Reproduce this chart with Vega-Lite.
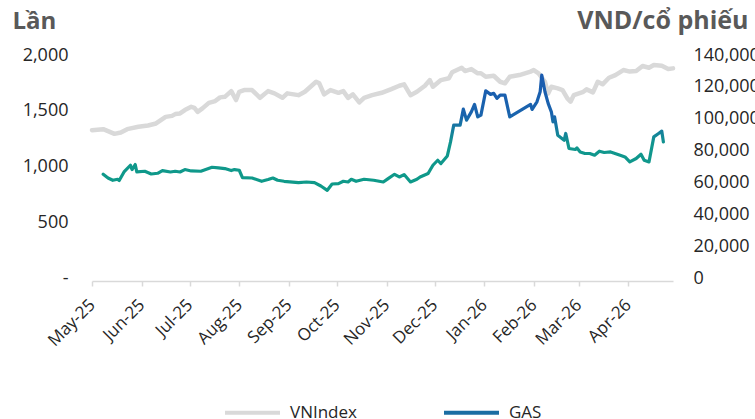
{
  "$schema": "https://vega.github.io/schema/vega-lite/v6.json",
  "width": 581,
  "height": 223,
  "autosize": {"type": "none"},
  "padding": {"left": 92, "top": 55, "right": 82, "bottom": 141},
  "background": "white",
  "config": {
    "view": {"stroke": null},
    "font": "Open Sans"
  },
  "datasets": {
    "vnindex": [
      {"date": "2025-05-01", "value": 1326},
      {"date": "2025-05-08", "value": 1335},
      {"date": "2025-05-11", "value": 1317},
      {"date": "2025-05-15", "value": 1293},
      {"date": "2025-05-19", "value": 1305},
      {"date": "2025-05-23", "value": 1335},
      {"date": "2025-05-30", "value": 1356},
      {"date": "2025-06-05", "value": 1368},
      {"date": "2025-06-10", "value": 1386},
      {"date": "2025-06-13", "value": 1416},
      {"date": "2025-06-16", "value": 1445},
      {"date": "2025-06-20", "value": 1454},
      {"date": "2025-06-22", "value": 1470},
      {"date": "2025-06-25", "value": 1476},
      {"date": "2025-06-28", "value": 1506},
      {"date": "2025-07-02", "value": 1535},
      {"date": "2025-07-04", "value": 1526},
      {"date": "2025-07-06", "value": 1490},
      {"date": "2025-07-09", "value": 1521},
      {"date": "2025-07-13", "value": 1571},
      {"date": "2025-07-17", "value": 1587},
      {"date": "2025-07-20", "value": 1620},
      {"date": "2025-07-23", "value": 1625},
      {"date": "2025-07-27", "value": 1676},
      {"date": "2025-07-30", "value": 1596},
      {"date": "2025-08-01", "value": 1670},
      {"date": "2025-08-04", "value": 1685},
      {"date": "2025-08-09", "value": 1685},
      {"date": "2025-08-14", "value": 1616},
      {"date": "2025-08-19", "value": 1676},
      {"date": "2025-08-23", "value": 1656},
      {"date": "2025-08-28", "value": 1616},
      {"date": "2025-08-31", "value": 1656},
      {"date": "2025-09-07", "value": 1640},
      {"date": "2025-09-11", "value": 1670},
      {"date": "2025-09-18", "value": 1760},
      {"date": "2025-09-20", "value": 1746},
      {"date": "2025-09-23", "value": 1647},
      {"date": "2025-09-27", "value": 1685},
      {"date": "2025-10-02", "value": 1661},
      {"date": "2025-10-05", "value": 1676},
      {"date": "2025-10-08", "value": 1616},
      {"date": "2025-10-11", "value": 1647},
      {"date": "2025-10-15", "value": 1575},
      {"date": "2025-10-18", "value": 1616},
      {"date": "2025-10-23", "value": 1640},
      {"date": "2025-10-29", "value": 1661},
      {"date": "2025-11-04", "value": 1694},
      {"date": "2025-11-09", "value": 1724},
      {"date": "2025-11-12", "value": 1737},
      {"date": "2025-11-16", "value": 1640},
      {"date": "2025-11-20", "value": 1670},
      {"date": "2025-11-25", "value": 1724},
      {"date": "2025-11-28", "value": 1775},
      {"date": "2025-11-30", "value": 1715},
      {"date": "2025-12-05", "value": 1775},
      {"date": "2025-12-10", "value": 1791},
      {"date": "2025-12-12", "value": 1845},
      {"date": "2025-12-18", "value": 1886},
      {"date": "2025-12-20", "value": 1856},
      {"date": "2025-12-24", "value": 1874},
      {"date": "2025-12-28", "value": 1836},
      {"date": "2025-12-30", "value": 1836},
      {"date": "2026-01-02", "value": 1805},
      {"date": "2026-01-07", "value": 1814},
      {"date": "2026-01-11", "value": 1760},
      {"date": "2026-01-14", "value": 1746},
      {"date": "2026-01-17", "value": 1805},
      {"date": "2026-01-23", "value": 1820},
      {"date": "2026-01-30", "value": 1851},
      {"date": "2026-02-01", "value": 1865},
      {"date": "2026-02-04", "value": 1836},
      {"date": "2026-02-08", "value": 1760},
      {"date": "2026-02-10", "value": 1655},
      {"date": "2026-02-12", "value": 1715},
      {"date": "2026-02-16", "value": 1701},
      {"date": "2026-02-19", "value": 1685},
      {"date": "2026-02-22", "value": 1611},
      {"date": "2026-02-24", "value": 1581},
      {"date": "2026-02-26", "value": 1640},
      {"date": "2026-03-04", "value": 1670},
      {"date": "2026-03-06", "value": 1692},
      {"date": "2026-03-10", "value": 1665},
      {"date": "2026-03-13", "value": 1760},
      {"date": "2026-03-16", "value": 1737},
      {"date": "2026-03-20", "value": 1796},
      {"date": "2026-03-24", "value": 1820},
      {"date": "2026-03-29", "value": 1865},
      {"date": "2026-04-02", "value": 1851},
      {"date": "2026-04-06", "value": 1856},
      {"date": "2026-04-10", "value": 1901},
      {"date": "2026-04-14", "value": 1886},
      {"date": "2026-04-17", "value": 1910},
      {"date": "2026-04-22", "value": 1904},
      {"date": "2026-04-26", "value": 1874},
      {"date": "2026-04-29", "value": 1880}
    ],
    "gas": [
      {"date": "2025-05-08", "value": 65100},
      {"date": "2025-05-11", "value": 62800},
      {"date": "2025-05-14", "value": 61350},
      {"date": "2025-05-17", "value": 61980},
      {"date": "2025-05-18", "value": 61160},
      {"date": "2025-05-21", "value": 66570},
      {"date": "2025-05-25", "value": 70790},
      {"date": "2025-05-26", "value": 68080},
      {"date": "2025-05-28", "value": 71230},
      {"date": "2025-05-29", "value": 66570},
      {"date": "2025-06-03", "value": 67010},
      {"date": "2025-06-07", "value": 65310},
      {"date": "2025-06-11", "value": 65750},
      {"date": "2025-06-14", "value": 67450},
      {"date": "2025-06-19", "value": 66570},
      {"date": "2025-06-22", "value": 67010},
      {"date": "2025-06-25", "value": 66570},
      {"date": "2025-06-28", "value": 68080},
      {"date": "2025-07-02", "value": 67200},
      {"date": "2025-07-08", "value": 67010},
      {"date": "2025-07-15", "value": 69530},
      {"date": "2025-07-19", "value": 69090},
      {"date": "2025-07-23", "value": 68710},
      {"date": "2025-07-27", "value": 67450},
      {"date": "2025-07-29", "value": 68080},
      {"date": "2025-08-01", "value": 67640},
      {"date": "2025-08-03", "value": 63050},
      {"date": "2025-08-09", "value": 62790},
      {"date": "2025-08-15", "value": 60720},
      {"date": "2025-08-19", "value": 61790},
      {"date": "2025-08-22", "value": 62790},
      {"date": "2025-08-25", "value": 61350},
      {"date": "2025-08-29", "value": 60720},
      {"date": "2025-09-07", "value": 59900},
      {"date": "2025-09-12", "value": 60280},
      {"date": "2025-09-17", "value": 59900},
      {"date": "2025-09-21", "value": 57760},
      {"date": "2025-09-25", "value": 55060},
      {"date": "2025-09-28", "value": 59020},
      {"date": "2025-10-02", "value": 59270},
      {"date": "2025-10-05", "value": 60720},
      {"date": "2025-10-08", "value": 60280},
      {"date": "2025-10-10", "value": 61980},
      {"date": "2025-10-13", "value": 60720},
      {"date": "2025-10-18", "value": 61980},
      {"date": "2025-10-24", "value": 61350},
      {"date": "2025-10-30", "value": 60280},
      {"date": "2025-11-02", "value": 62420},
      {"date": "2025-11-06", "value": 65120},
      {"date": "2025-11-09", "value": 63420},
      {"date": "2025-11-12", "value": 64930},
      {"date": "2025-11-16", "value": 60280},
      {"date": "2025-11-20", "value": 61980},
      {"date": "2025-11-22", "value": 63420},
      {"date": "2025-11-27", "value": 65560},
      {"date": "2025-11-30", "value": 70790},
      {"date": "2025-12-03", "value": 73930},
      {"date": "2025-12-05", "value": 71860},
      {"date": "2025-12-09", "value": 76640},
      {"date": "2025-12-11", "value": 85450},
      {"date": "2025-12-13", "value": 95950},
      {"date": "2025-12-17", "value": 95950},
      {"date": "2025-12-19", "value": 106020},
      {"date": "2025-12-21", "value": 99100},
      {"date": "2025-12-24", "value": 104320},
      {"date": "2025-12-26", "value": 108980},
      {"date": "2025-12-28", "value": 101180},
      {"date": "2025-12-30", "value": 102250},
      {"date": "2026-01-02", "value": 117500},
      {"date": "2026-01-05", "value": 115270},
      {"date": "2026-01-07", "value": 115900},
      {"date": "2026-01-09", "value": 112750},
      {"date": "2026-01-11", "value": 114830},
      {"date": "2026-01-14", "value": 114830},
      {"date": "2026-01-17", "value": 101180},
      {"date": "2026-01-30", "value": 108980},
      {"date": "2026-01-31", "value": 105830},
      {"date": "2026-02-03", "value": 110610},
      {"date": "2026-02-05", "value": 116900},
      {"date": "2026-02-06", "value": 127410},
      {"date": "2026-02-08", "value": 116900},
      {"date": "2026-02-10", "value": 109610},
      {"date": "2026-02-12", "value": 104320},
      {"date": "2026-02-13", "value": 98030},
      {"date": "2026-02-14", "value": 101180},
      {"date": "2026-02-16", "value": 89660},
      {"date": "2026-02-20", "value": 86520},
      {"date": "2026-02-21", "value": 90730},
      {"date": "2026-02-23", "value": 81290},
      {"date": "2026-02-27", "value": 80660},
      {"date": "2026-02-28", "value": 81670},
      {"date": "2026-03-02", "value": 79150},
      {"date": "2026-03-05", "value": 78150},
      {"date": "2026-03-08", "value": 78150},
      {"date": "2026-03-11", "value": 77080},
      {"date": "2026-03-14", "value": 79590},
      {"date": "2026-03-17", "value": 78780},
      {"date": "2026-03-21", "value": 79150},
      {"date": "2026-03-27", "value": 77080},
      {"date": "2026-03-30", "value": 76010},
      {"date": "2026-04-02", "value": 72860},
      {"date": "2026-04-06", "value": 75000},
      {"date": "2026-04-09", "value": 77710},
      {"date": "2026-04-11", "value": 73930},
      {"date": "2026-04-14", "value": 72860},
      {"date": "2026-04-17", "value": 88590},
      {"date": "2026-04-20", "value": 90730},
      {"date": "2026-04-22", "value": 92180},
      {"date": "2026-04-23", "value": 85450}
    ]
  },
  "layer": [
    {
      "data": {"name": "vnindex"},
      "mark": {"type": "line", "strokeWidth": 4.5, "strokeJoin": "round", "strokeCap": "round"},
      "encoding": {
        "x": {
          "field": "date", "type": "temporal",
          "scale": {"domain": [{"year": 2025, "month": 5, "date": 1}, {"year": 2026, "month": 4, "date": 29}], "nice": false},
          "axis": {
            "title": null, "format": "%b-%y", "tickCount": {"interval": "month", "step": 1},
            "labelAngle": -45, "labelAlign": "right", "labelBaseline": "middle",
            "labelFont": "Open Sans", "labelFontSize": 17, "labelColor": "#262626",
            "labelPadding": 16, "labelOverlap": false, "labelFlush": false,
            "domainColor": "#d9d9d9", "domainWidth": 1.5, "tickColor": "#d9d9d9", "tickSize": 5, "tickWidth": 1.5,
            "grid": false, "offset": 3
          }
        },
        "y": {
          "field": "value", "type": "quantitative",
          "scale": {"domain": [0, 2000], "nice": false, "zero": true},
          "axis": {
            "orient": "left", "values": [0, 500, 1000, 1500, 2000],
            "labelExpr": "datum.value === 0 ? '-\u2007' : format(datum.value, ',')",
            "labelFont": "Open Sans", "labelFontSize": 18, "labelColor": "#262626", "labelPadding": 24,
            "domain": false, "ticks": false, "grid": false,
            "title": "Lần", "titleAngle": 0, "titleX": -80, "titleY": -27, "titleAlign": "left", "titleBaseline": "alphabetic",
            "titleFont": "Open Sans", "titleFontSize": 24, "titleFontWeight": "bold", "titleColor": "#595959"
          }
        },
        "color": {
          "datum": "VNIndex",
          "scale": {"domain": ["VNIndex", "GAS"], "range": ["#d9d9d9", "#1b6ea3"]},
          "legend": {
            "orient": "none", "legendX": 131, "legendY": 328, "direction": "horizontal", "title": null,
            "symbolType": "stroke", "symbolSize": 3025, "symbolStrokeWidth": 4,
            "labelFont": "Open Sans", "labelFontSize": 17, "labelColor": "#262626",
            "labelOffset": 8, "columnPadding": 79
          }
        }
      }
    },
    {
      "data": {"name": "gas"},
      "mark": {"type": "line", "strokeWidth": 3.2, "strokeJoin": "round", "strokeCap": "round"},
      "encoding": {
        "x": {"field": "date", "type": "temporal"},
        "y": {
          "field": "value", "type": "quantitative",
          "scale": {"domain": [0, 140000], "nice": false, "zero": true},
          "axis": {
            "orient": "right", "values": [0, 20000, 40000, 60000, 80000, 100000, 120000, 140000],
            "labelExpr": "format(datum.value, ',.0f')",
            "labelFont": "Open Sans", "labelFontSize": 18, "labelColor": "#262626", "labelPadding": 20,
            "domain": false, "ticks": false, "grid": false,
            "title": "VND/cổ phiếu", "titleAngle": 0, "titleX": 75, "titleY": -27, "titleAlign": "right", "titleBaseline": "alphabetic",
            "titleFont": "Open Sans", "titleFontSize": 25, "titleFontWeight": "bold", "titleColor": "#595959"
          }
        },
        "color": {"datum": "GAS"},
        "stroke": {"value": {"gradient": "linear", "x1": 0, "y1": 0, "x2": 0, "y2": 1, "stops": [
          {"offset": 0, "color": "#1a5bb0"},
          {"offset": 0.35, "color": "#1a64ad"},
          {"offset": 0.6, "color": "#11968e"},
          {"offset": 1, "color": "#0e9a88"}
        ]}}
      }
    }
  ],
  "resolve": {"scale": {"y": "independent"}}
}
